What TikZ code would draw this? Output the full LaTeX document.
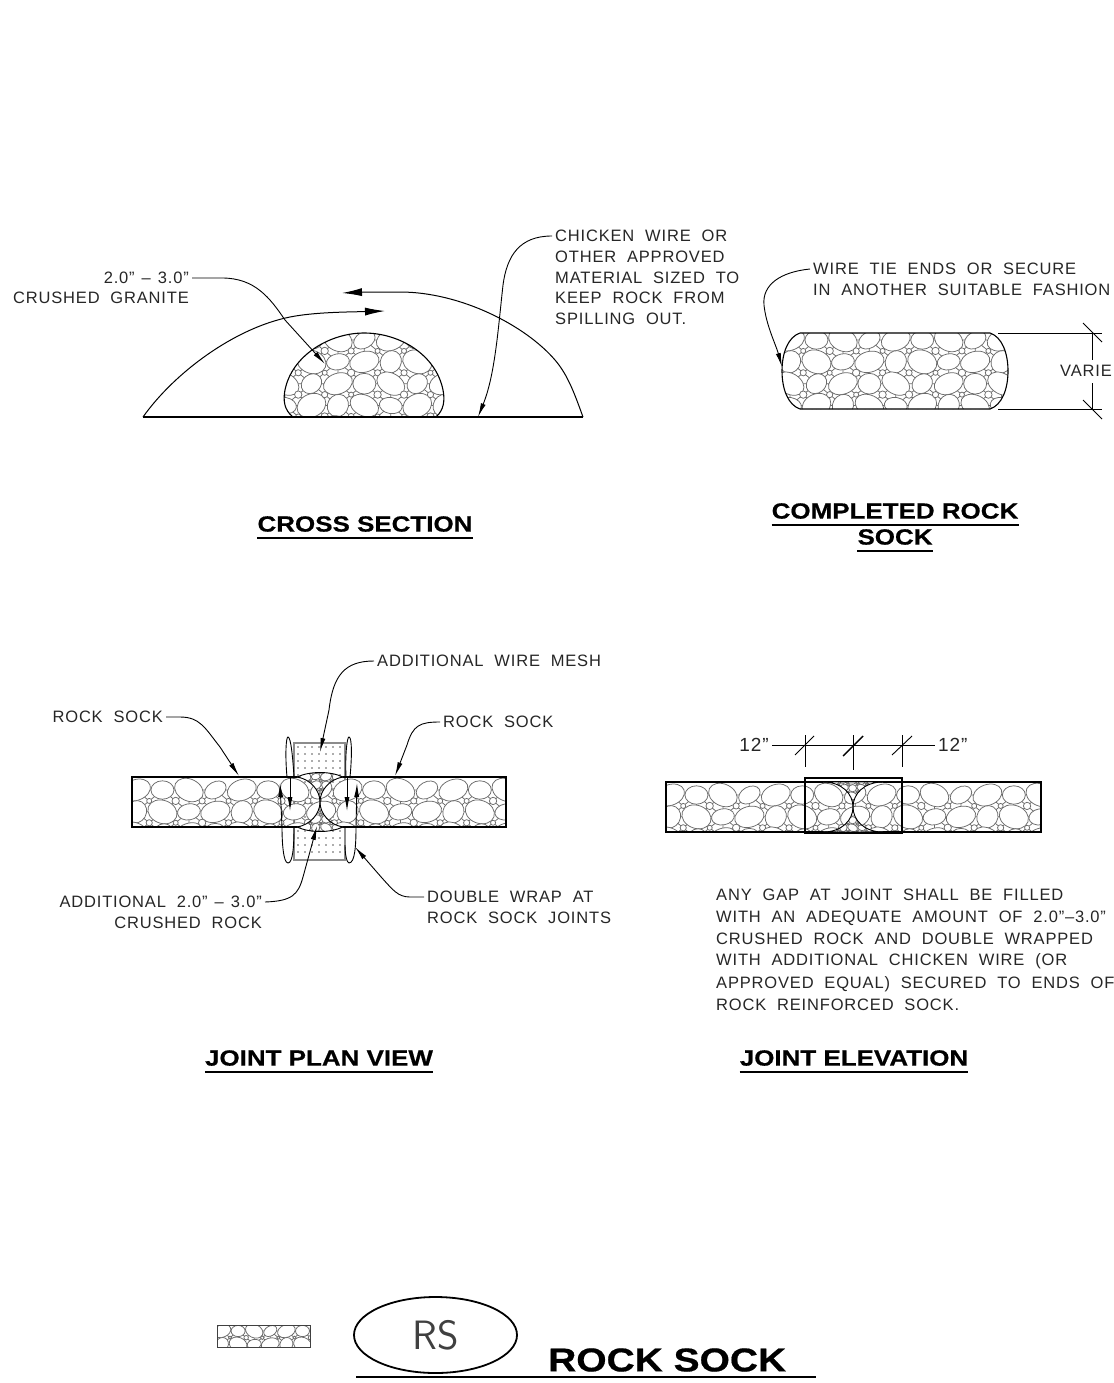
\documentclass[tikz,border=0pt]{standalone}
\usepackage{fontspec}
\usepackage{tikz}
\usetikzlibrary{arrows.meta,shapes.geometric}
\setmainfont{Liberation Sans}[LetterSpace=5,WordSpace=2.0]
\newfontfamily\titlefont{Liberation Sans}[FakeStretch=1.18,FakeBold=.6]
\tikzset{
  cadleft/.style={anchor=west, inner xsep=3pt, inner ysep=0pt, font=\fontsize{16.5}{18}\selectfont, text=black!85},
  cadright/.style={anchor=east, inner xsep=3pt, inner ysep=0pt, font=\fontsize{16.5}{18}\selectfont, text=black!85},
  titletext/.style={inner xsep=0pt, inner ysep=6pt, font=\titlefont\bfseries\fontsize{22}{24}\selectfont},
  titleline/.style={line width=1.8pt},
  leader/.style={line width=.9pt, -{Latex[length=14pt,width=5pt]}},
  wraparrow/.style={line width=1pt, -{Latex[length=20pt,width=8pt]}},
  wire/.style={line width=.9pt},
  outline/.style={line width=1.1pt},
  rockline/.style={line width=.75pt, draw=black!58},
}
% stones, tile 92 x 76
\newcommand{\rockfill}[5]{
  \foreach \i in {0,...,#3} \foreach \j in {0,...,#4} {
    \begin{scope}[shift={(#1+\i*92*#5,#2+\j*76*#5)},scale=#5]
      \foreach \u in {0,23,46,69} \foreach \v in {0,19,38,57}
        \draw [rockline] (\u,\v) -- ++(23,0) (\u,\v) -- ++(0,19) (\u,\v) -- ++(23,19) (\u+23,\v) -- ++(-23,19);
    \end{scope}
  }
  \foreach \i in {0,...,#3} \foreach \j in {0,...,#4} {
    \begin{scope}[shift={(#1+\i*92*#5,#2+\j*76*#5)},scale=#5]
      \foreach \cx/\cy/\rx/\ry/\ang in {
        0/0/13/9/20, 23/0/10/8/0, 46/0/13/9.5/-25, 69/0/10/7/30,
        0/19/10/9/60, 23/19/13/10/-20, 46/19/10/7/10, 69/19/13/9/15,
        0/38/13/9/-30, 23/38/9.5/8/40, 46/38/13/9/20, 69/38/10/9/0,
        0/57/10/7/-10, 23/57/13/10/25, 46/57/10/9/60, 69/57/13/9/-25}
        \draw [rockline, fill=white] (\cx,\cy) ellipse [x radius=\rx, y radius=\ry, rotate=\ang];
      \foreach \u in {11.5,34.5,57.5,80.5} \foreach \v in {9.5,28.5,47.5,66.5}
        \draw [rockline, fill=white] (\u,\v) circle [radius={2.2+mod(\u+\v,3)*.5}];
    \end{scope}
  }
}
\newcommand{\rockdome}{(293,417) .. controls (284,410) and (283,400) .. (285,390) .. controls (292,355) and (330,333) .. (364,333) .. controls (400,333) and (436,355) .. (443,390) .. controls (445,400) and (444,410) .. (436,417) -- cycle}
\newcommand{\rockbar}{(800,333) -- (990,333) .. controls (1002,337) and (1008,353) .. (1008,371) .. controls (1008,389) and (1002,405) .. (990,409) -- (800,409) .. controls (788,405) and (782,389) .. (782,371) .. controls (782,353) and (788,337) .. (800,333) -- cycle}
\newcommand{\plantop}{(297,777) .. controls (310,771) and (330,771) .. (343,777) .. controls (330,779) and (320,790) .. (320,802) .. controls (320,790) and (310,779) .. (297,777) -- cycle}
\newcommand{\planbot}{(297,827) .. controls (310,833) and (330,833) .. (343,827) .. controls (330,825) and (320,814) .. (320,802) .. controls (320,814) and (310,825) .. (297,827) -- cycle}
\newcommand{\elevtop}{(823,782) .. controls (842,782) and (853,794) .. (853,807) .. controls (853,794) and (864,782) .. (883,782) -- cycle}
\newcommand{\elevbot}{(823,832) .. controls (842,832) and (853,820) .. (853,807) .. controls (853,820) and (864,832) .. (883,832) -- cycle}
\begin{document}
\begin{tikzpicture}[x=1pt,y=-1pt]
      \useasboundingbox (0,0) rectangle (1113,1383);
      % cross section
      \begin{scope}
        \clip \rockdome;
        \rockfill{285}{340}{1}{1}{1.15}
      \end{scope}
      \draw [outline] \rockdome;
      \coordinate (arcl) at (385,311);
      \coordinate (arcr) at (342,293);
      \coordinate (ganchor) at (325,364);
      \coordinate (wanchor) at (478,417);
      \coordinate (basel) at (143,417);
      \coordinate (baser) at (583,417);
      \draw [outline] (basel) -- (baser);
      \draw [wraparrow] (basel) .. controls (175,372) and (235,328) .. (290,317) .. controls (315,312) and (350,312) .. (arcl);
      \draw [wraparrow] (baser) .. controls (575,395) and (568,375) .. (555,360) .. controls (525,325) and (460,292) .. (400,292) .. controls (380,292) and (365,292) .. (arcr);
      \node [cadright] (g1) at (192,278) {2.0”\kern7pt–\kern7pt3.0”};
      \node [cadright] (g2) at (192,298) {CRUSHED GRANITE};
      \node [cadleft]  (c1) at (552,236) {CHICKEN WIRE OR};
      \node [cadleft]  (c2) at (552,257) {OTHER APPROVED};
      \node [cadleft]  (c3) at (552,278) {MATERIAL SIZED TO};
      \node [cadleft]  (c4) at (552,298) {KEEP ROCK FROM};
      \node [cadleft]  (c5) at (552,319) {SPILLING OUT.};
      \draw [leader] (g1.east) -- (222,278) .. controls (255,278) and (270,298) .. (285,320) -- (ganchor);
      \draw [leader] (c1.west) .. controls (520,236) and (507,255) .. (503,285) .. controls (498,330) and (495,375) .. (wanchor);
      \node [titletext] (tcross) at (365,524) {CROSS SECTION};
      \draw [titleline] (tcross.south west) -- (tcross.south east);
      % completed rock sock
      \begin{scope}
        \clip \rockbar;
        \rockfill{790}{340}{2}{1}{1.15}
      \end{scope}
      \draw [outline] \rockbar;
      \node [cadleft]  (w1) at (810,269) {WIRE TIE ENDS OR SECURE};
      \node [cadleft]  (w2) at (810,290) {IN ANOTHER SUITABLE FASHION};
      \coordinate (wtip) at (782,367);
      \draw [leader] (w1.west) .. controls (780,272) and (762,285) .. (764,305) .. controls (766,325) and (776,345) .. (wtip);
      \node [cadleft]  (varie) at (1057,371) {VARIE};
      \coordinate (dimt) at (1092,333);
      \coordinate (dimb) at (1092,409);
      \draw [wire] (998,333) -- (1102,333) (998,409) -- (1102,409);
      \draw [wire] (dimt) -- (1092,360) (1092,383) -- (dimb);
      \draw [wire] (1083,323) -- (1102,342) (1083,400) -- (1102,419);
      \node [titletext] (tcomp1) at (895,511) {COMPLETED ROCK};
      \node [titletext] (tcomp2) at (895,537) {SOCK};
      \draw [titleline] (tcomp1.south west) -- (tcomp1.south east);
      \draw [titleline] (tcomp2.south west) -- (tcomp2.south east);
      % joint plan view
      \draw [line width=1.1pt, draw=black!45] (294,743) rectangle (345,860);
      \foreach \x in {298,305,...,342} \foreach \y in {747,754,...,857}
        \fill [black!65] (\x,\y) circle [radius=.9];
      \begin{scope}
        \clip (132,777) rectangle (506,827);
        \rockfill{136}{790}{3}{0}{1.15}
      \end{scope}
      \draw [outline] (132,777) rectangle (506,827);
      \fill [white] \plantop;
      \fill [white] \planbot;
      \begin{scope}
        \clip \plantop;
        \rockfill{295}{768}{1}{1}{.45}
      \end{scope}
      \begin{scope}
        \clip \planbot;
        \rockfill{295}{802}{1}{1}{.45}
      \end{scope}
      \draw [wire] \plantop;
      \draw [wire] \planbot;
      \draw [wire] (287,777) .. controls (285,755) and (286,737) .. (288,737) .. controls (291,737) and (293,760) .. (294,777);
      \draw [wire] (346,777) .. controls (345,755) and (347,737) .. (349,737) .. controls (352,737) and (352,757) .. (350,777);
      \draw [wire] (294,827) .. controls (294,845) and (293,863) .. (288,863);
      \draw [wire] (345,845) .. controls (345,855) and (347,863) .. (349,863);
      \coordinate (up1) at (280,783);
      \coordinate (dn1) at (290,811);
      \coordinate (dn2) at (347,811);
      \coordinate (up2) at (357,783);
      \draw [leader] (288,863) .. controls (283,863) and (282,840) .. (282,827) -- (up1);
      \draw [leader] (290,777) -- (dn1);
      \draw [leader] (347,777) -- (dn2);
      \draw [leader] (349,863) .. controls (355,863) and (356,845) .. (356,827) -- (up2);
      \node [cadleft]  (m1) at (374,661) {ADDITIONAL WIRE MESH};
      \node [cadright] (s1) at (166,717) {ROCK SOCK};
      \node [cadleft]  (s2) at (440,722) {ROCK SOCK};
      \node [cadright] (a1) at (265,902) {ADDITIONAL 2.0”\kern7pt–\kern7pt3.0”};
      \node [cadright] (a2) at (265,923) {CRUSHED ROCK};
      \node [cadleft]  (d1) at (424,897) {DOUBLE WRAP AT};
      \node [cadleft]  (d2) at (424,918) {ROCK SOCK JOINTS};
      \coordinate (mtip) at (320,752);
      \coordinate (s1tip) at (239,776);
      \coordinate (s2tip) at (395,776);
      \coordinate (atip) at (317,826);
      \coordinate (dtip) at (355,847);
      \draw [leader] (m1.west) .. controls (345,661) and (333,675) .. (329,710) -- (mtip);
      \draw [leader] (s1.east) -- (180,717) .. controls (200,717) and (205,728) .. (220,747) -- (s1tip);
      \draw [leader] (s2.west) .. controls (420,722) and (413,725) .. (407,745) -- (s2tip);
      \draw [leader] (a1.east) .. controls (292,901) and (298,895) .. (303,877) -- (atip);
      \draw [leader] (d1.west) -- (410,897) .. controls (398,897) and (393,890) .. (382,878) -- (dtip);
      \node [titletext] (tplan) at (319,1058) {JOINT PLAN VIEW};
      \draw [titleline] (tplan.south west) -- (tplan.south east);
      % joint elevation
      \begin{scope}
        \clip (666,782) rectangle (1041,832);
        \rockfill{670}{795}{3}{0}{1.15}
      \end{scope}
      \draw [outline] (666,782) rectangle (1041,832);
      \fill [white] \elevtop;
      \fill [white] \elevbot;
      \begin{scope}
        \clip \elevtop;
        \rockfill{825}{773}{1}{1}{.4}
      \end{scope}
      \begin{scope}
        \clip \elevbot;
        \rockfill{825}{805}{1}{1}{.4}
      \end{scope}
      \draw [wire] \elevtop;
      \draw [wire] \elevbot;
      \draw [line width=1.7pt] (805,778) rectangle (902,833);
      \node [cadright, font=\fontsize{19}{20}\selectfont] (e1) at (772,745) {12”};
      \node [cadleft, font=\fontsize{19}{20}\selectfont]  (e2) at (935,745) {12”};
      \draw [wire] (e1.east) -- (e2.west);
      \draw [wire] (805,735) -- (805,767) (853,735) -- (853,770) (902,735) -- (902,767);
      \draw [wire] (795,755) -- (814,736) (892,755) -- (912,736);
      \draw [line width=1.4pt] (843,756) -- (863,736);
      \node [cadleft]  (n1) at (713,895)  {ANY GAP AT JOINT SHALL BE FILLED};
      \node [cadleft]  (n2) at (713,918)  {WITH AN ADEQUATE AMOUNT OF 2.0”–3.0”};
      \node [cadleft]  (n3) at (713,939)  {CRUSHED ROCK AND DOUBLE WRAPPED};
      \node [cadleft]  (n4) at (713,961)  {WITH ADDITIONAL CHICKEN WIRE (OR};
      \node [cadleft]  (n5) at (713,984)  {APPROVED EQUAL) SECURED TO ENDS OF};
      \node [cadleft]  (n6) at (713,1005) {ROCK REINFORCED SOCK.};
      \node [titletext] (telev) at (854,1058) {JOINT ELEVATION};
      \draw [titleline] (telev.south west) -- (telev.south east);
      % legend
      \begin{scope}
        \clip (217,1325) rectangle (310,1347);
        \rockfill{222}{1331}{1}{0}{.7}
      \end{scope}
      \draw [wire, draw=black!75] (217,1325) rectangle (310,1347);
      \node [ellipse, draw, line width=1.8pt, minimum width=163pt, minimum height=76pt, inner sep=0pt, font=\sffamily\fontsize{41}{43}\selectfont, text=black!75] (rs) at (435.5,1335) {RS};
      \node [anchor=west, inner sep=0pt, font=\titlefont\bfseries\fontsize{33}{35}\selectfont] (tname) at (548,1360) {ROCK SOCK};
      \coordinate (ul) at (356,1377);
      \coordinate (ur) at (816,1377);
      \draw [line width=1.1pt] (ul) -- (ur);
\end{tikzpicture}
\end{document}
